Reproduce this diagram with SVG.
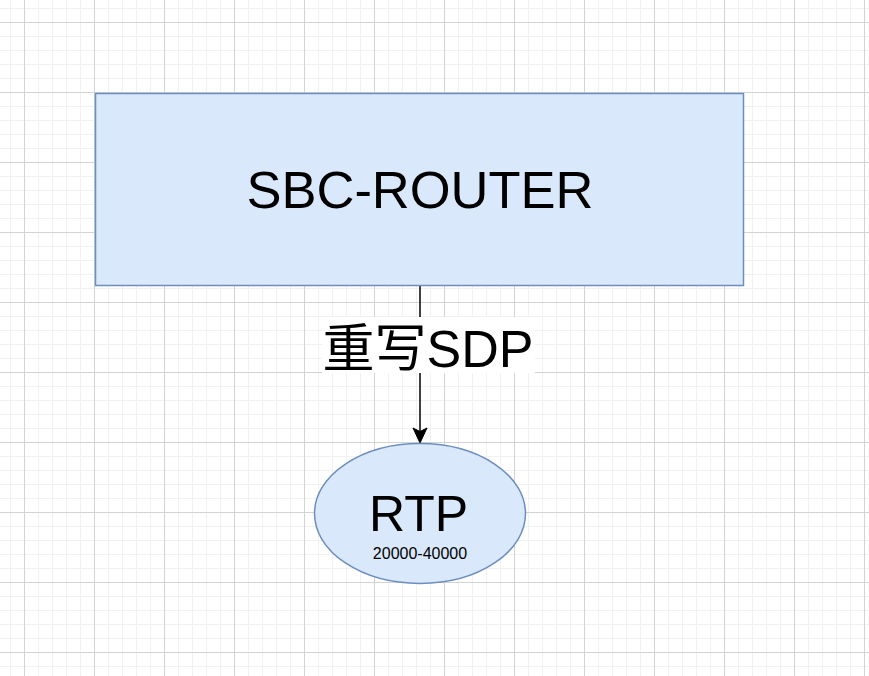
<svg xmlns="http://www.w3.org/2000/svg" width="869" height="676" viewBox="0 0 869 676">
<style>
.txt{font-family:"Liberation Sans",Arial,"Noto Sans CJK SC",sans-serif;fill:#000;text-anchor:middle}
.node{fill:#dae8fc;stroke:#6c8ebf;stroke-width:1.5}
.edge{stroke:#000;stroke-width:1.5;fill:none}
</style>
<defs>
<pattern id="grid" patternUnits="userSpaceOnUse" x="24" y="22" width="70" height="70">
<path d="M14.5 0V70M28.5 0V70M42.5 0V70M56.5 0V70M0 14.5H70M0 28.5H70M0 42.5H70M0 56.5H70" stroke="#f1f1f1" stroke-width="1" fill="none"/>
<path d="M0.5 0V70M0 0.5H70" stroke="#d3d3d3" stroke-width="1" fill="none"/>
</pattern>
</defs>
<rect width="869" height="676" fill="#fff"/>
<rect width="869" height="676" fill="url(#grid)"/>
<g id="connectors">
<path class="edge" d="M420 286V432"/>
<path d="M420 443L413 428L420 431.5L427 428Z" fill="#000" stroke="#000" stroke-width="1"/>
<rect x="322" y="317" width="213" height="56" fill="#fff"/>
<text class="txt" x="428" y="366.5" font-size="52">重写SDP</text>
</g>
<g id="sbc-router">
<rect class="node" x="95.5" y="93.5" width="648" height="192"/>
<text class="txt" x="420" y="207.5" font-size="52.5">SBC-ROUTER</text>
</g>
<g id="rtp">
<ellipse class="node" cx="420" cy="513.5" rx="105.5" ry="70"/>
<text class="txt" x="418.5" y="531" font-size="50">RTP</text>
<text class="txt" x="420" y="558.5" font-size="16">20000-40000</text>
</g>
</svg>
